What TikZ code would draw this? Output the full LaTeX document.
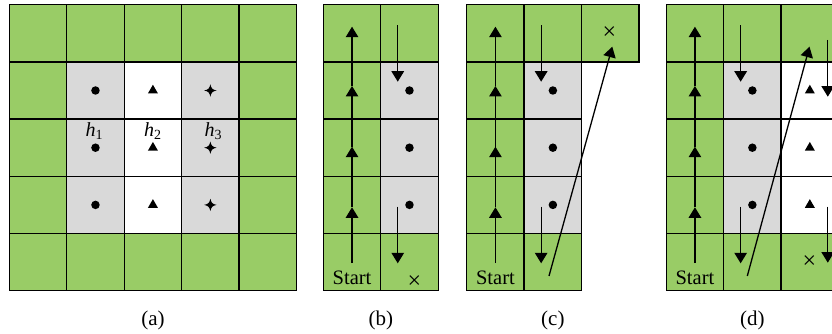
\documentclass[tikz,border=0pt]{standalone}
\usepackage{fontspec}
\setmainfont{Liberation Serif}
\usetikzlibrary{arrows.meta,shapes.geometric}

\definecolor{cellgreen}{RGB}{153,204,102}
\definecolor{cellgray}{RGB}{217,217,217}

% cell size and top edge of every grid
\def\cellw{57.45}
\def\cellh{57.2}
\def\gridtop{4.7}

% one filled, outlined cell: #1 left edge of panel, #2 column, #3 row, #4 fill
\newcommand\gridcell[4]{%
  \filldraw[cellline, fill=#4] ({#1+#2*\cellw},{\gridtop+#3*\cellh}) rectangle +(\cellw,\cellh);}

% centre of a cell, stored as a named coordinate
\newcommand\cellcentre[4]{%
  \coordinate (#1) at ({#2+(#3+0.5)*\cellw},{\gridtop+(#4+0.5)*\cellh});}

% four-pointed star with concave sides around a named point
\newcommand\fourstar[1]{%
  \fill (#1) ++(0,-6.2)
    .. controls +(0.9,4.2) and +(-4.2,-0.9) .. ++(6.2,6.2)
    .. controls +(-4.2,0.9) and +(0.9,-4.2) .. ++(-6.2,6.2)
    .. controls +(-0.9,-4.2) and +(4.2,0.9) .. ++(-6.2,-6.2)
    .. controls +(4.2,-0.9) and +(-0.9,4.2) .. ++(6.2,-6.2) -- cycle;}

% the upward run in the first column: start point and four arrow tips
\newcommand\upchain[2]{%
  \coordinate (#1-s)  at (#2,263);
  \coordinate (#1-u1) at (#2,207.3);
  \coordinate (#1-u2) at (#2,146.7);
  \coordinate (#1-u3) at (#2,86);
  \coordinate (#1-u4) at (#2,26.7);
  \draw[flow] (#1-s) -- (#1-u1);
  \draw[flow] (#1-u1) -- (#1-u2);
  \draw[flow] (#1-u2) -- (#1-u3);
  \draw[flow] (#1-u3) -- (#1-u4);}

% the two short downward arrows of a column at x = #2
\newcommand\downpair[6]{%
  \coordinate (#1-d1s) at (#2,#3);
  \coordinate (#1-d1e) at (#2,#4);
  \coordinate (#1-d2s) at (#2,#5);
  \coordinate (#1-d2e) at (#2,#6);
  \draw[flow] (#1-d1s) -- (#1-d1e);
  \draw[flow] (#1-d2s) -- (#1-d2e);}

\begin{document}
\begin{tikzpicture}[x=1pt,y=-1pt,
  cellline/.style={draw=black, line width=1.4pt},
  flow/.style={line width=1.3pt, -{Triangle[width=12.5pt,length=10.5pt]}},
  dotmark/.style={circle, fill=black, inner sep=0pt, minimum size=8.5pt},
  trimark/.style={regular polygon, regular polygon sides=3, fill=black, inner sep=0pt, minimum size=11.5pt},
  endmark/.style={inner sep=0pt, font=\fontsize{24}{24}\selectfont},
  hlabel/.style={anchor=base, inner sep=0pt, font=\fontsize{20}{20}\selectfont},
  startlabel/.style={anchor=base, inner sep=0pt, font=\fontsize{20.5}{24}\selectfont},
  caption/.style={anchor=base, inner sep=0pt, font=\fontsize{21}{24}\selectfont}]
\useasboundingbox (0,0) rectangle (832,334);
\clip (0,0) rectangle (832,334);

% ---------------- panel (a) ----------------
\def\xa{9.3}
\foreach \c in {0,...,4}{\foreach \r in {0,...,4}{\gridcell{\xa}{\c}{\r}{cellgreen}}}
\foreach \r in {1,2,3}{
  \gridcell{\xa}{1}{\r}{cellgray}
  \gridcell{\xa}{2}{\r}{white}
  \gridcell{\xa}{3}{\r}{cellgray}}
\foreach \r in {1,2,3}{
  \cellcentre{a-h1-\r}{\xa}{1}{\r}
  \cellcentre{a-h2-\r}{\xa}{2}{\r}
  \cellcentre{a-h3-\r}{\xa}{3}{\r}
  \node[dotmark]  (a-dot-\r)  at (a-h1-\r) {};
  \node[trimark]  (a-tri-\r)  at (a-h2-\r) {};
  \fourstar{a-h3-\r}}
\node[hlabel] (a-lab1) at ({\xa+1.5*\cellw-1},136.5) {\textit{h}\textsubscript{1}};
\node[hlabel] (a-lab2) at ({\xa+2.5*\cellw},136.5) {\textit{h}\textsubscript{2}};
\node[hlabel] (a-lab3) at ({\xa+3.5*\cellw+3},136.5) {\textit{h}\textsubscript{3}};
\node[caption] (cap-a) at ({\xa+2.5*\cellw},325.5) {(a)};

% ---------------- panel (b) ----------------
\def\xb{323.3}
\foreach \r in {0,...,4}{\gridcell{\xb}{0}{\r}{cellgreen}}
\gridcell{\xb}{1}{0}{cellgreen}
\foreach \r in {1,2,3}{\gridcell{\xb}{1}{\r}{cellgray}}
\gridcell{\xb}{1}{4}{cellgreen}
\foreach \r in {1,2,3}{
  \cellcentre{b-c-\r}{\xb}{1}{\r}
  \node[dotmark] (b-dot-\r) at (b-c-\r) {};}
\upchain{b}{\xb+0.5*\cellw}
\downpair{b}{\xb+\cellw+17}{25.5}{81.7}{206.7}{263.3}
\node[startlabel] (b-start) at ({\xb+0.5*\cellw},284.4) {Start};
\node[endmark] (b-end) at (414.3,281.7) {×};
\node[caption] (cap-b) at ({\xb+\cellw},325.5) {(b)};

% ---------------- panel (c) ----------------
\def\xc{466.7}
\foreach \r in {0,...,4}{\gridcell{\xc}{0}{\r}{cellgreen}}
\gridcell{\xc}{1}{0}{cellgreen}
\foreach \r in {1,2,3}{\gridcell{\xc}{1}{\r}{cellgray}}
\gridcell{\xc}{1}{4}{cellgreen}
\gridcell{\xc}{2}{0}{cellgreen}
\foreach \r in {1,2,3}{
  \cellcentre{c-c-\r}{\xc}{1}{\r}
  \node[dotmark] (c-dot-\r) at (c-c-\r) {};}
\upchain{c}{\xc+0.5*\cellw}
\downpair{c}{\xc+\cellw+17}{25.5}{81.7}{206.7}{263.3}
\coordinate (c-js) at (549,276);
\coordinate (c-je) at (612.3,46.7);
\draw[flow] (c-js) -- (c-je);
\node[startlabel] (c-start) at ({\xc+0.5*\cellw},284.4) {Start};
\node[endmark] (c-end) at (609.3,33.3) {×};
\node[caption] (cap-c) at ({\xc+1.5*\cellw},325.5) {(c)};

% ---------------- panel (d) ----------------
\def\xd{666.2}
\foreach \r in {0,...,4}{\gridcell{\xd}{0}{\r}{cellgreen}}
\gridcell{\xd}{1}{0}{cellgreen}
\foreach \r in {1,2,3}{\gridcell{\xd}{1}{\r}{cellgray}}
\gridcell{\xd}{1}{4}{cellgreen}
\gridcell{\xd}{2}{0}{cellgreen}
\foreach \r in {1,2,3}{\gridcell{\xd}{2}{\r}{white}}
\gridcell{\xd}{2}{4}{cellgreen}
\foreach \r in {1,2,3}{
  \cellcentre{d-c-\r}{\xd}{1}{\r}
  \cellcentre{d-t-\r}{\xd}{2}{\r}
  \node[dotmark] (d-dot-\r) at (d-c-\r) {};
  \node[trimark] (d-tri-\r) at (d-t-\r) {};}
\upchain{d}{\xd+0.5*\cellw}
\downpair{d}{\xd+\cellw+17}{25.5}{81.7}{206.7}{263.3}
\downpair{d3}{\xd+2*\cellw+46.7}{40}{96.7}{206.7}{262.7}
\coordinate (d-js) at (747.3,276);
\coordinate (d-je) at (809.5,46.7);
\draw[flow] (d-js) -- (d-je);
\node[startlabel] (d-start) at ({\xd+0.5*\cellw},284.4) {Start};
\node[endmark] (d-end) at (809.3,261.7) {×};
\node[caption] (cap-d) at ({\xd+1.5*\cellw},325.5) {(d)};
\end{tikzpicture}
\end{document}
